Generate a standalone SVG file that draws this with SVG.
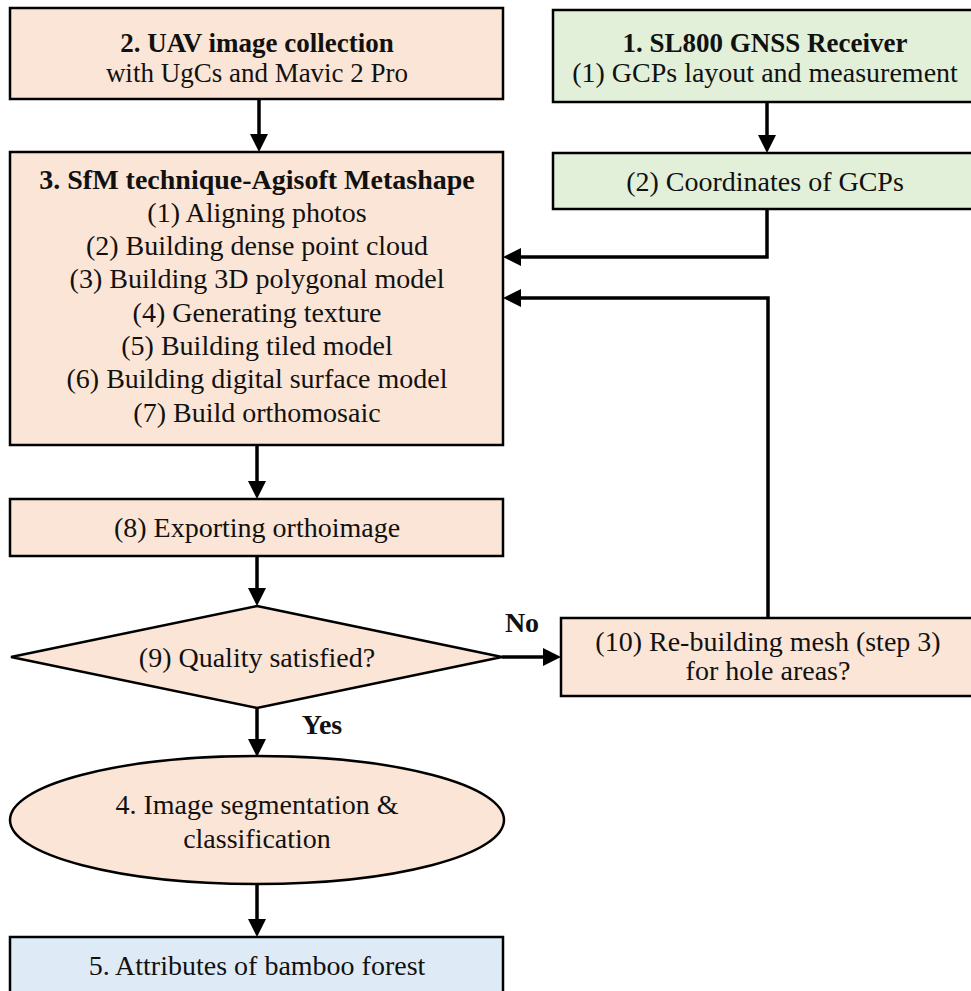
<svg xmlns="http://www.w3.org/2000/svg" width="971" height="991" viewBox="0 0 971 991">
<style>
  .peach { fill: #FBE5D6; stroke: #000; stroke-width: 2.5; }
  .green { fill: #E2F0D9; stroke: #000; stroke-width: 2.5; }
  .blue { fill: #DEEBF7; stroke: #000; stroke-width: 2.5; }
  text { font-family: "Liberation Serif", "Times New Roman", serif; font-size: 28px; fill: #111; text-anchor: middle; }
  .b { font-weight: bold; }
  .s { font-size: 27px; }
  .conn { fill: none; stroke: #000; stroke-width: 3.5; marker-end: url(#arr); }
</style>
<defs>
  <marker id="arr" viewBox="0 0 18 18" refX="10" refY="9" markerWidth="18" markerHeight="18" markerUnits="userSpaceOnUse" orient="auto">
    <path d="M0,0 L18,9 L0,18 z" fill="#000"/>
  </marker>
</defs>
<rect width="971" height="991" fill="#fff"/>

<g id="connectors">
  <path class="conn" d="M259,99 V144"/>
  <path class="conn" d="M767,102 V145"/>
  <path class="conn" d="M767,209 V257 H511"/>
  <path class="conn" d="M768,618 V298 H511"/>
  <path class="conn" d="M257,445 V491"/>
  <path class="conn" d="M257,556 V598"/>
  <path class="conn" d="M502,657 H553"/>
  <path class="conn" d="M257,708 V749"/>
  <path class="conn" d="M257,884 V929"/>
</g>

<g id="node2">
  <rect class="peach" x="10" y="8" width="493" height="91"/>
  <text x="257" y="52" class="b s">2. UAV image collection</text>
  <text x="257" y="82" class="s">with UgCs and Mavic 2 Pro</text>
</g>

<g id="node1">
  <rect class="green" x="553" y="10" width="425" height="92"/>
  <text x="765" y="52" class="b s">1. SL800 GNSS Receiver</text>
  <text x="765" y="82">(1) GCPs layout and measurement</text>
</g>

<g id="node_gcp">
  <rect class="green" x="553" y="153" width="425" height="56"/>
  <text x="765" y="191">(2) Coordinates of GCPs</text>
</g>

<g id="node3">
  <rect class="peach" x="10" y="152" width="493" height="293"/>
  <text x="257" y="189" class="b">3. SfM technique-Agisoft Metashape</text>
  <text x="257" y="222">(1) Aligning photos</text>
  <text x="257" y="255">(2) Building dense point cloud</text>
  <text x="257" y="288">(3) Building 3D polygonal model</text>
  <text x="257" y="322">(4) Generating texture</text>
  <text x="257" y="355">(5) Building tiled model</text>
  <text x="257" y="388">(6) Building digital surface model</text>
  <text x="257" y="422">(7) Build orthomosaic</text>
</g>

<g id="node8">
  <rect class="peach" x="10" y="499" width="493" height="57"/>
  <text x="257" y="537">(8) Exporting orthoimage</text>
</g>

<g id="node9">
  <polygon class="peach" points="257,606 502,657 257,708 11,657"/>
  <text x="257" y="667">(9) Quality satisfied?</text>
</g>

<g id="node10">
  <rect class="peach" x="561" y="618" width="414" height="78"/>
  <text x="768" y="651">(10) Re-building mesh (step 3)</text>
  <text x="768" y="680">for hole areas?</text>
</g>

<g id="labels">
  <text x="522" y="632" class="b">No</text>
  <text x="322" y="734" class="b">Yes</text>
</g>

<g id="node4">
  <ellipse class="peach" cx="257" cy="820" rx="247" ry="64"/>
  <text x="257" y="814">4. Image segmentation &amp;</text>
  <text x="257" y="848">classification</text>
</g>

<g id="node5">
  <rect class="blue" x="10" y="937" width="493" height="70"/>
  <text x="257" y="975">5. Attributes of bamboo forest</text>
</g>
</svg>
